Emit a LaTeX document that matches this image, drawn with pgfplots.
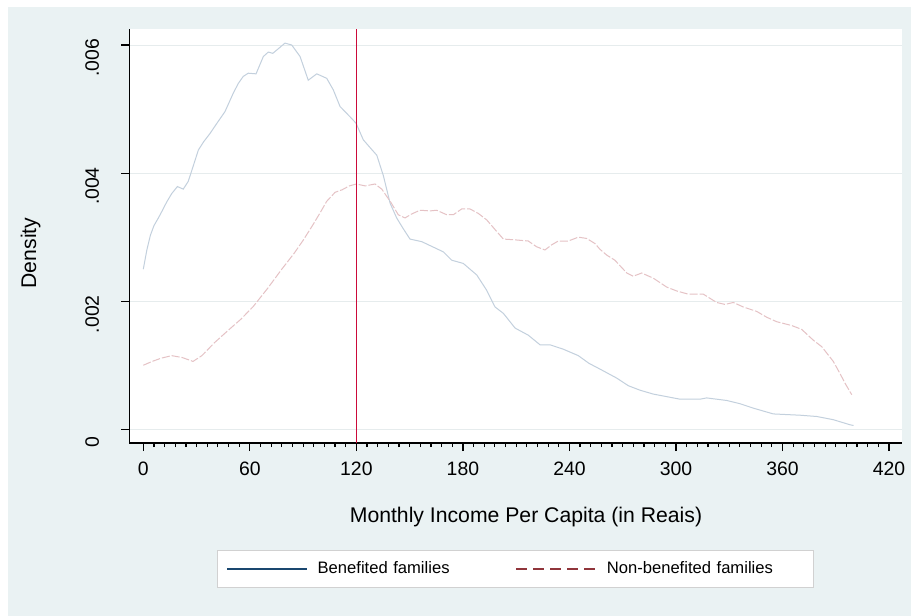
\documentclass[border=0pt]{standalone}
\usepackage{pgfplots}
\pgfplotsset{compat=1.18}
\usepackage{fontspec}
\setmainfont{Liberation Sans}
\definecolor{bgc}{HTML}{EAF2F3}
\definecolor{gridc}{HTML}{E6ECED}
\definecolor{navyc}{HTML}{1A476F}
\definecolor{maroonc}{HTML}{90353B}
\definecolor{benc}{HTML}{C3D0DD}
\definecolor{nonc}{HTML}{E5C2C5}
\definecolor{redc}{HTML}{CC0A3A}
\begin{document}
\begin{tikzpicture}
\fill[white] (0,0) rectangle (455.5pt,-308pt);
\fill[bgc] (4pt,-3.4pt) rectangle (455.5pt,-308pt);
\begin{axis}[
  at={(64.65pt,-221.5pt)}, anchor=south west,
  scale only axis, width=386.35pt, height=207pt,
  xmin=-7.885, xmax=427.3, ymin=-0.000214, ymax=0.00625,
  axis background/.style={fill=white},
  axis x line*=bottom, axis y line*=left,
  axis line style={black, line width=0.6pt},
  every tick/.style={black, line width=0.6pt},
  tick align=outside, major tick length=4pt, minor tick length=2pt,
  xtick={0,60,120,180,240,300,360,420},
  xticklabels={0,60,120,180,240,300,360,420},
  minor x tick num=9,
  ytick={0,0.002,0.004,0.006},
  yticklabels={0,.002,.004,.006},
  scaled y ticks=false,
  ymajorgrids, grid style={gridc, line width=0.5pt},
  ticklabel style={font=\fontsize{9.7}{11}\selectfont},
  xticklabel style={anchor=base, yshift=-12pt},
  yticklabel style={xshift=-11.2pt, yshift=-6.5pt, rotate=90, anchor=base},
  xlabel={Monthly Income Per Capita (in Reais)},
  xlabel style={at={(axis description cs:0.5134,-0.1915)}, anchor=base, font=\fontsize{10.6}{12}\selectfont},
  ylabel={Density},
  ylabel style={at={(axis description cs:-0.1207,0.459)}, anchor=base, font=\fontsize{10.6}{12}\selectfont},
  legend style={at={(0.5,-0.2585)}, anchor=north, draw={black!18}, line width=0.5pt, fill=white,
    font=\fontsize{8.3}{10}\selectfont, inner xsep=4.5pt, inner ysep=3.5pt,
    nodes={text width=97pt, align=left},
    /tikz/every odd column/.style={column sep=3pt}},
  legend columns=2,
  legend image code/.code={\draw[#1] (0pt,0pt) -- (40pt,0pt);},
]
\addlegendimage{navyc, line width=0.6pt}
\addlegendentry{Benefited families}
\addlegendimage{maroonc, line width=0.6pt, dash pattern=on 5.5pt off 3pt}
\addlegendentry{Non-benefited families}
\addplot[benc, line width=0.5pt, forget plot] coordinates {
(0,0.00250)(2,0.00280)(4,0.00303)(6,0.00318)(8.5,0.00330)(11,0.00343)(13.2,0.00355)(16,0.00368)
(19.2,0.00379)(22.5,0.00375)(25.3,0.00387)(28,0.00410)(31,0.00436)(34,0.00449)(37.6,0.00462)
(42,0.00480)(46,0.00496)(50.7,0.00525)(53.5,0.00540)(56.3,0.00551)(59.1,0.00556)(63.5,0.00555)
(67.6,0.00582)(70.4,0.00589)(72.9,0.00587)(75.1,0.00592)(79.8,0.00603)(83.6,0.00600)(88.3,0.00582)
(92.9,0.00545)(97.7,0.00555)(103.3,0.00548)(107,0.00530)(110.8,0.00504)(116.4,0.00488)(119.8,0.00478)
(123.9,0.00452)(128.6,0.00437)(131.5,0.00428)(135.2,0.00396)(139,0.00353)(142.7,0.00330)(146,0.00315)
(150.2,0.00297)(156.8,0.00293)(165.2,0.00282)(169,0.00277)(173.7,0.00264)(180.2,0.00259)(187.8,0.00241)
(193.4,0.00217)(198.1,0.00191)(202.8,0.00181)(209.4,0.00158)(216.8,0.00147)(223.4,0.00132)(229,0.00132)
(236.6,0.00125)(245,0.00115)(251,0.00103)(257.2,0.00094)(266.6,0.00080)(273.2,0.00068)(279.8,0.00061)
(287.2,0.00055)(302.3,0.00047)(313.5,0.00047)(317.3,0.00049)(328.6,0.00045)(336,0.00040)(343.6,0.00033)
(354.8,0.00024)(369.9,0.00022)(379.3,0.00020)(388.6,0.00015)(398.1,0.00007)(400,0.00006)
};
\addplot[nonc, line width=0.5pt, dash pattern=on 4pt off 1pt, forget plot] coordinates {
(0,0.00100)(5,0.00106)(10,0.00111)(16,0.00115)(22,0.00112)(28,0.00106)(33,0.00115)(40,0.00135)
(48,0.00155)(55,0.00172)(62,0.00192)(70,0.00220)(78,0.00250)(85,0.00275)(90,0.00295)(95.7,0.00320)
(100,0.00340)(103.3,0.00356)(108,0.00370)(112,0.00374)(116,0.00380)(120,0.00383)(125,0.00380)
(130.5,0.00383)(134.3,0.00375)(139.5,0.00354)(143.6,0.00335)(147.4,0.00330)(151,0.00336)(155.8,0.00342)
(161.5,0.00341)(165.2,0.00342)(170.9,0.00335)(174.6,0.00335)(179.3,0.00344)(184,0.00344)(188.7,0.00337)
(193.4,0.00327)(199,0.00309)(202.8,0.00297)(208.4,0.00296)(216.8,0.00294)(221.5,0.00285)(226.2,0.00280)
(230,0.00288)(233.7,0.00294)(239.4,0.00294)(245,0.00300)(249.7,0.00298)(254.4,0.00290)(257.2,0.00281)
(261,0.00272)(265.6,0.00264)(272.3,0.00244)(275.9,0.00239)(280.7,0.00244)(287.2,0.00236)(294.8,0.00222)
(300.4,0.00216)(306.9,0.00211)(315.4,0.00211)(322.9,0.00198)(327.6,0.00195)(332.3,0.00198)(337.9,0.00191)
(345.5,0.00184)(351.1,0.00175)(356.7,0.00168)(365.2,0.00162)(370.8,0.00156)(377.4,0.00139)(382.1,0.00129)
(388.6,0.00106)(392.4,0.00087)(395.2,0.00072)(399,0.00054)
};
\addplot[redc, line width=0.6pt, forget plot] coordinates {(120,-0.000214) (120,0.00625)};
\end{axis}
\pgfresetboundingbox
\useasboundingbox (0,0) rectangle (455.5pt,-308pt);
\end{tikzpicture}
\end{document}
